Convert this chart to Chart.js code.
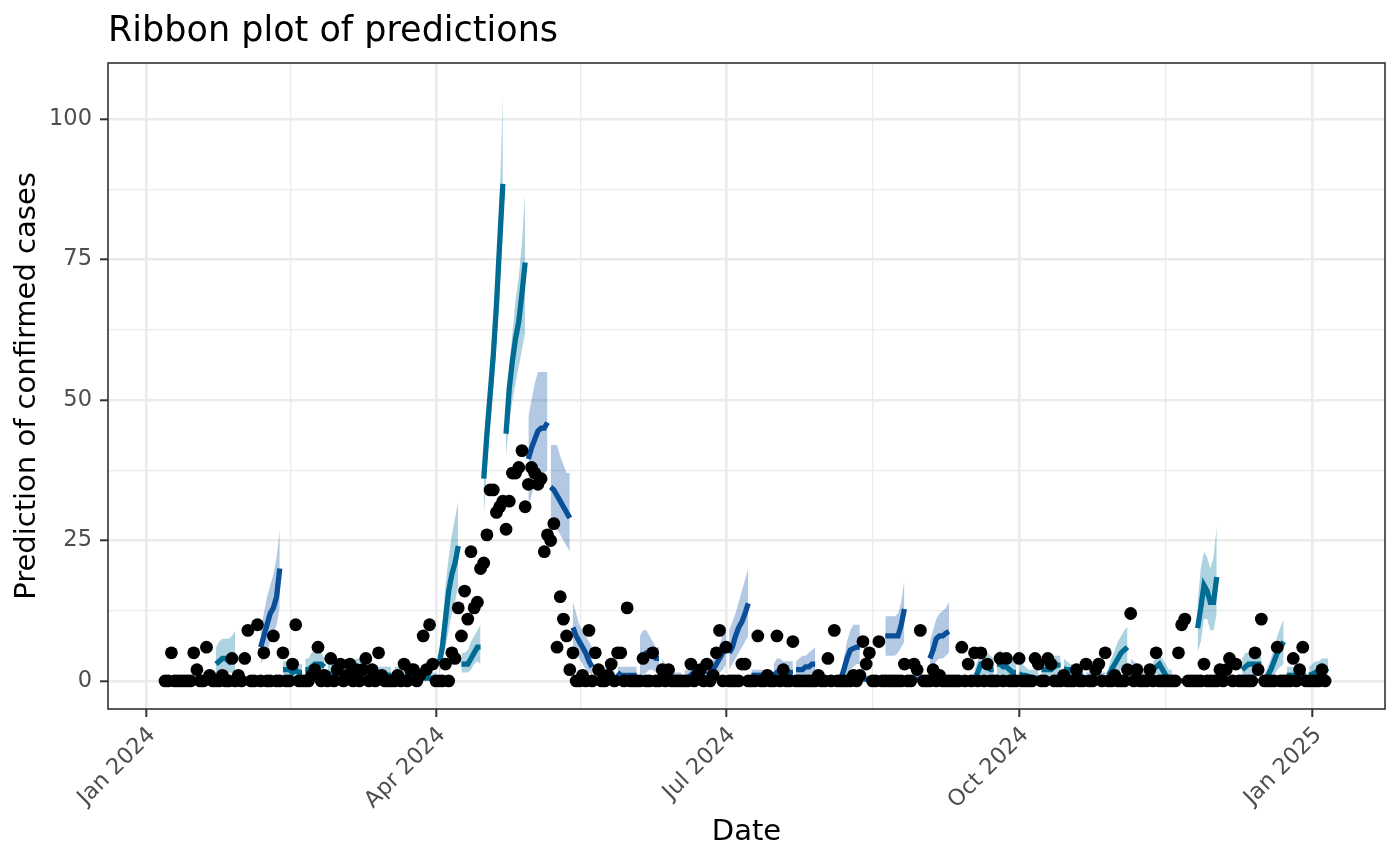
<!DOCTYPE html>
<html>
<head>
<meta charset="utf-8">
<title>Ribbon plot of predictions</title>
<script src="https://cdn.jsdelivr.net/npm/chart.js@4.4.1/dist/chart.umd.min.js"></script>
<style>
  html, body { margin: 0; padding: 0; background: #ffffff; }
  #wrap { width: 1400px; height: 865px; }
</style>
</head>
<body>
<div id="wrap"><canvas id="predChart" width="1400" height="865"></canvas></div>
<script>
// daily confirmed cases, one value per day from obsStart
const obsStart = '2024-01-07';
const observed = [
  0,0,5,0,0,0,0,0,0,
  5,2,0,0,6,1,0,0,0,1,
  0,0,4,0,1,0,4,9,0,0,
  10,0,5,0,0,8,0,0,5,0,
  0,3,10,0,0,0,0,1,2,6,
  0,1,0,4,0,2,3,0,1,3,
  0,2,0,2,4,0,2,0,5,1,
  0,0,0,0,1,0,3,0,2,2,
  0,1,8,2,10,3,0,0,0,3,
  0,5,4,13,8,16,11,23,13,14,
  20,21,26,34,34,30,31,32,27,32,
  37,37,38,41,31,35,38,37,35,36,
  23,26,25,28,6,15,11,8,2,5,
  0,0,1,0,9,0,5,2,0,0,
  1,3,0,5,5,0,13,0,0,0,
  0,4,0,0,5,0,0,2,0,2,
  0,0,0,0,0,0,3,0,1,2,
  0,3,0,1,5,9,0,6,0,0,
  0,0,3,3,0,0,0,8,0,0,
  1,0,0,8,0,2,0,0,7,0,
  0,0,0,0,0,0,1,0,0,4,
  0,9,0,0,0,0,0,1,0,1,
  7,3,5,0,0,7,0,0,0,0,
  0,0,0,3,0,0,3,2,9,0,
  0,0,2,0,1,0,0,0,0,0,
  0,6,0,3,0,5,0,5,0,3,
  0,0,0,4,0,4,0,0,0,4,
  0,0,0,0,4,3,0,0,4,3,
  0,0,0,1,0,0,0,2,0,0,
  3,0,0,2,3,0,5,0,0,1,
  0,0,0,2,12,0,2,0,0,0,
  2,0,5,0,0,0,0,0,0,5,
  10,11,0,0,0,0,0,3,0,0,
  0,0,2,0,2,4,0,3,0,0,
  0,0,0,5,2,11,0,0,0,0,
  6,0,0,0,0,4,0,2,6,0,
  0,0,0,0,2,0
];

// weekly 7-day forecasts, consecutive weeks from fcStart
const fcStart = '2024-01-23';
const fcMid = [
  3,3.5,4,4,3.5,4.5,4.5,   0,0,0,0,0,0,0,   6,8,10,12,13,15,20,
  2,2,2,1.5,2,1.5,1.5,     2,2,2.5,3,3,3,2.5, 1.5,1,1,1,1,1,1,
  1,1.5,2,2,1.5,1,1,       1,1,1,1,1,1,1,   1,1,1,0.5,1,0.5,0.5,
  0.5,0.5,0.5,0.5,0.5,0.5,0.5,  3,6,11,16,19,21,24,  3,3,3,4,5,6,6,
  36,44,51,58,67,78,88.5,  44,52,57,61,64,69,74.5,  39.5,41.5,43,44.5,45,45,46,
  34.5,34,33,32,31,30,29,  9.5,8,7,6,5,3.5,2.5,  1.5,1.5,1,1,1,1,1,
  1.5,1,1,1,1,1,1,         4,4.5,5,5,4.5,4,4,  2,1.5,1,0.5,0.5,0.5,0.5,
  0.5,0.5,1,1.5,1,1.5,1.5, 1,1.5,2,3,4,5,6,  5,6,8,9.5,10.5,12,13.8,
  1,1,1,1,1,1,1,           1,1.5,2,1.5,1.5,1.5,1.5,  2,2,2,2.5,2.5,3,3,
  0,0,0,0,0,0,0,           0.3,2,4,5.5,5.8,6,6,  0.3,0.3,0.3,0.3,0.3,0.3,0.3,
  8,8,8,8,8,10,12.8,       0.3,0.3,0.3,0.3,0.3,0.3,0.3,  4,5.5,7.5,8,8,8.5,8.8,
  0.3,0.3,0.3,0.3,0.3,0.3,0.3,  0.5,1.5,3,3,2.5,2,2,  3,3,2.5,2.5,2,1.5,1.5,
  1.3,1,1,0.8,0.5,0.5,0.5, 2,2,2,2,2.5,2.8,2.8,  2.2,2,2,1.5,1.2,1,1,
  0.3,0.3,0.3,0.3,0.3,0.3,0.3,  1,2,3,4,5,5.5,6,  2,1.5,1,0.5,0.3,0.3,0.3,
  2,2.5,3,2,1,0.5,0.5,     0,0,0,0,0,0,0,   9.4,13,17,16,14,14,18.5,
  0.2,0.2,0.2,0.2,0.2,0.2,0.2,  2,2.5,3,3,3,3,3,  0.2,1,2,3.5,5,6,7,
  1,1,1,1,1,1,1,           1,1.2,1.5,1.5,2,2,2.2
];
const fcLow = [
  1,1,1,1.5,1.5,1.5,1.5,   0,0,0,0,0,0,0,   3,4,5,7,8,10,13,
  0.5,0.5,0.5,0.5,0.5,0.5,0.5,  0.5,0.5,1,1,1,1,1,  0,0,0,0,0,0,0,
  0,0,0.5,0.5,0.5,0,0,     0,0,0,0,0,0,0,   0,0,0,0,0,0,0,
  0,0,0,0,0,0,0,           1,3,6,9,12,14,17,  1.5,1.5,1.5,2,3,3.5,3,
  29,38,45,52,60,70,80,    40,46,50,53,56,59,62,  31,33,35,36,36,37,37.5,
  28,27.5,27,26,25,24,23,  6,5,4,3,2,1.5,1,  0,0,0,0,0,0,0,
  0,0,0,0,0,0,0,           1,1,1.5,2,2,1.5,1,  0.5,0,0,0,0,0,0,
  0,0,0,0,0,0,0,           0,0,0.5,1,1.5,2,3,  2,3,4,5,6,7,8,
  0,0,0,0,0,0,0,           0,0,0.5,0,0,0,0,  0.5,0.5,0.5,1,1,1,1,
  0,0,0,0,0,0,0,           0,0,1,2,2.5,3,3,  0,0,0,0,0,0,0,
  4.5,4.5,4.5,4.5,5,6,7,   0,0,0,0,0,0,0,   1.5,2.5,3.5,4,4,4.5,5,
  0,0,0,0,0,0,0,           0,0,1,1,0.5,0.5,0.5,  1,1,1,1,0.5,0.5,0.5,
  0,0,0,0,0,0,0,           0.5,0.5,0.5,0.5,1,1,1,  0.5,0.5,0.5,0.5,0,0,0,
  0,0,0,0,0,0,0,           0,0.5,1,1.5,2,2.5,3,  0.5,0,0,0,0,0,0,
  0.5,1,1,0.5,0,0,0,       0,0,0,0,0,0,0,   5,7,11,11,9,9,12,
  0,0,0,0,0,0,0,           0.5,1,1,1,1,1,1,  0,0,0.5,1,2,2.5,3,
  0,0,0,0,0,0,0,           0,0,0.5,0.5,0.5,0.5,0.5
];
const fcHigh = [
  6,7,7.5,7.5,7.5,8,9,     0.5,0.5,0.5,0.5,0.5,0.5,0.5,  9,12,15,17,19,22,27,
  3.5,3.5,3.5,3,3.5,3,3,   4,4,5,5.5,5.5,5,4,  3,3,3,3,3,3,3,
  3,3.5,4,4,3.5,3,3,       2.5,2.5,2.5,2.5,2.5,2.5,2.5,  2.5,2.5,2.5,2,2,2,2,
  1.5,1.5,1.5,1.5,1.5,1.5,1.5,  5,10,17,22,26,29,32,  5,5,5.5,7,8,9,10,
  40,48,56,64,74,86,104,   48,56,62,68,72,78,87,  47,50,53,55,55,55,55,
  42,42,42,40,38.5,37,37,  14,12,10,9,8,7,6,  3,3,2.5,2.5,2.5,2.5,2.5,
  2.5,2.5,2.5,2.5,2.5,2.5,2.5,  8,9,9,8,7,6,6,  4,3,2,1.5,1.5,1.5,1.5,
  2,2,2.5,3,3,3,3,         2,3,4,5,6.5,8,9,  9,10.5,12,14,16,18,20,
  2,2,2,2,2,2,2,           3,4,4,3.5,3.5,3.5,3.5,  3.5,4,4.5,4.5,5,5.5,6,
  0.5,0.5,0.5,0.5,0.5,0.5,0.5,  1,4,7,9,10,10,10,  1,1,1,1,1,1,1,
  11.5,11.5,11.5,11.5,12,14,18,  1,1,1,1,1,1,1,  7,9,11,12,12.5,13,14,
  1,1,1,1,1,1,1,           2,3.5,5,5.5,5,4.5,4,  5,5.5,5,5,4.5,4,4,
  3,3,2.5,2,2,2,2,         4,4,4,4,4.5,4.5,4.5,  4,3.5,3,3,3,2.5,2.5,
  1.5,1.5,1.5,1.5,1.5,1.5,1.5,  2.5,4,5.5,7,8,9,9.7,  4,3.5,3,2,1.5,1.5,1.5,
  3.5,4,4.5,4,3,2,2,       0.5,0.5,0.5,0.5,0.5,0.5,0.5,  14,20,23,22,20,22,27.5,
  1,1,1,1,1,1,1,           4,5,5,5,5,5,5,   1,2.5,4,6,8,9.5,11,
  2.5,2.5,2.5,2.5,2.5,2.5,2.5,  2.5,3,3.5,3.5,4,4,4
];
// which model made each week's forecast (0 = teal, 1 = dark blue)
const weekModel = [
  0,1,1,0,0,0,0,0,0,0,
  0,0,0,0,1,1,1,1,1,1,
  1,1,1,1,1,1,1,1,1,1,
  1,1,1,1,0,0,0,0,0,1,
  0,1,0,0,0,0,0,0,0,0
];

const xTickDates = ['2024-01-01', '2024-04-01', '2024-07-01', '2024-10-01', '2025-01-01'];
const xTickLabels = ['Jan 2024', 'Apr 2024', 'Jul 2024', 'Oct 2024', 'Jan 2025'];
const yTicks = [0, 25, 50, 75, 100];

const lineColours = ['#006c93', '#0a4f9a'];
const ribbonColours = ['rgba(0, 115, 160, 0.32)', 'rgba(20, 85, 165, 0.32)'];
const FONT = 'DejaVu Sans';

// days since 1 Jan 2024 is used as the x value
const origin = Date.UTC(2024, 0, 1);
const dayOf = s => (Date.parse(s + 'T00:00:00Z') - origin) / 86400000;

const xMajor = xTickDates.map(dayOf);
const xMinor = xMajor.slice(1).map((d, i) => (d + xMajor[i]) / 2);
const xTicks = xMajor.concat(xMinor).sort((a, b) => a - b);
const yMinor = yTicks.slice(1).map((v, i) => (v + yTicks[i]) / 2);
const yAll = yTicks.concat(yMinor).sort((a, b) => a - b);
const isMajorX = v => xMajor.some(d => Math.abs(d - v) < 0.01);
const isMajorY = v => yTicks.includes(v);

const obs0 = dayOf(obsStart);
const fc0 = dayOf(fcStart);

const datasets = [];
datasets.push({
    label: 'observed',
    data: observed.map((v, i) => ({ x: obs0 + i, y: v })),
    showLine: false,
    pointRadius: 6.4,
    pointBackgroundColor: '#000000',
    pointBorderWidth: 0,
    order: 0
});

for (let w = 0; w < weekModel.length; w++) {
    const pick = arr => arr.slice(w * 7, w * 7 + 7).map((v, k) => ({ x: fc0 + w * 7 + k, y: v }));
    const lowIdx = datasets.length;
    datasets.push({
        data: pick(fcLow),
        borderColor: 'rgba(0,0,0,0)',
        borderWidth: 1,
        pointRadius: 0,
        fill: false,
        order: 2
    });
    datasets.push({
        data: pick(fcHigh),
        borderColor: 'rgba(0,0,0,0)',
        borderWidth: 1,
        pointRadius: 0,
        backgroundColor: ribbonColours[weekModel[w]],
        fill: lowIdx,
        order: 2
    });
    datasets.push({
        data: pick(fcMid),
        borderColor: lineColours[weekModel[w]],
        borderWidth: 5.3,
        pointRadius: 0,
        fill: false,
        order: 1
    });
}

// panel border drawn over everything, like theme_bw
const panelBorder = {
    id: 'panelBorder',
    afterDraw(chart) {
        const { ctx, chartArea: a } = chart;
        ctx.save();
        ctx.strokeStyle = '#333333';
        ctx.lineWidth = 1.6;
        ctx.strokeRect(a.left, a.top, a.right - a.left, a.bottom - a.top);
        ctx.restore();
    }
};

new Chart(document.getElementById('predChart'), {
    type: 'line',
    data: { datasets },
    plugins: [panelBorder],
    options: {
        responsive: false,
        animation: false,
        devicePixelRatio: 1,
        layout: { padding: { left: 0, right: 15, top: 0, bottom: 0 } },
        plugins: {
            legend: { display: false },
            tooltip: { enabled: false },
            title: {
                display: true,
                text: 'Ribbon plot of predictions',
                align: 'start',
                fullSize: false,
                color: '#000000',
                font: { family: FONT, size: 35, weight: 'normal' },
                padding: { top: 11, bottom: 10 }
            }
        },
        scales: {
            x: {
                type: 'linear',
                min: -11.9,
                max: 388.8,
                afterBuildTicks: s => { s.ticks = xTicks.map(v => ({ value: v })); },
                afterFit: s => { s.height = 156; },
                ticks: {
                    autoSkip: false,
                    minRotation: 45,
                    maxRotation: 45,
                    color: '#4d4d4d',
                    font: { family: FONT, size: 22.5 },
                    padding: 5,
                    labelOffset: 6,
                    callback: v => isMajorX(v) ? xTickLabels[xMajor.findIndex(d => Math.abs(d - v) < 0.01)] : ''
                },
                grid: {
                    color: '#ebebeb',
                    lineWidth: c => isMajorX(c.tick.value) ? 2.6 : 1.3,
                    tickColor: c => isMajorX(c.tick.value) ? '#333333' : 'rgba(0,0,0,0)',
                    tickLength: 8,
                    tickWidth: 2
                },
                border: { display: false },
                title: {
                    display: true,
                    text: 'Date',
                    color: '#000000',
                    font: { family: FONT, size: 29 },
                    padding: { top: 0, bottom: 15 }
                }
            },
            y: {
                type: 'linear',
                min: -5,
                max: 110,
                afterBuildTicks: s => { s.ticks = yAll.map(v => ({ value: v })); },
                afterFit: s => { s.width = 108; },
                ticks: {
                    autoSkip: false,
                    color: '#4d4d4d',
                    font: { family: FONT, size: 22.5 },
                    padding: 8,
                    callback: v => isMajorY(v) ? String(v) : ''
                },
                grid: {
                    color: '#ebebeb',
                    lineWidth: c => isMajorY(c.tick.value) ? 2.6 : 1.3,
                    tickColor: c => isMajorY(c.tick.value) ? '#333333' : 'rgba(0,0,0,0)',
                    tickLength: 8,
                    tickWidth: 2
                },
                border: { display: false },
                title: {
                    display: true,
                    text: 'Prediction of confirmed cases',
                    color: '#000000',
                    font: { family: FONT, size: 29 },
                    padding: { top: 10, bottom: 0 }
                }
            }
        }
    }
});
</script>
</body>
</html>
